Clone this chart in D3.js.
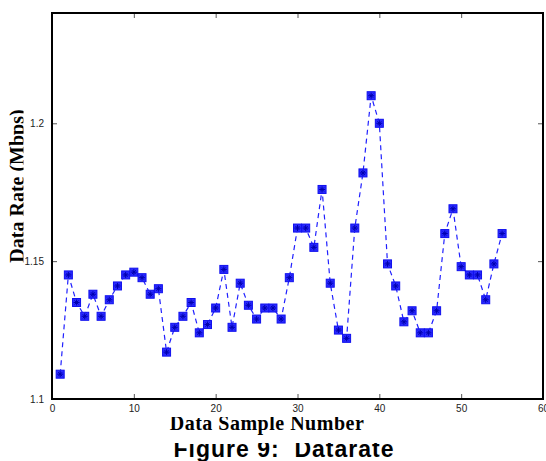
<!DOCTYPE html>
<html>
<head>
<meta charset="utf-8">
<script src="https://cdn.jsdelivr.net/npm/d3@7"></script>
<style>
  body { margin: 0; background: #fff; }
  svg { display: block; }
</style>
</head>
<body>
<div id="chart"></div>
<script>
// data rate per sample
const samples = d3.range(1, 56)
const rates = [1.109, 1.145, 1.135, 1.130, 1.138, 1.130, 1.136, 1.141, 1.145, 1.146,
  1.144, 1.138, 1.140, 1.117, 1.126, 1.130, 1.135, 1.124, 1.127, 1.133,
  1.147, 1.126, 1.142, 1.134, 1.129, 1.133, 1.133, 1.129, 1.144, 1.162,
  1.162, 1.155, 1.176, 1.142, 1.125, 1.122, 1.162, 1.182, 1.210, 1.200,
  1.149, 1.141, 1.128, 1.132, 1.124, 1.124, 1.132, 1.160, 1.169, 1.148,
  1.145, 1.145, 1.136, 1.149, 1.160]
const xTicks = [0, 10, 20, 30, 40, 50, 60]
const yTicks = [1.1, 1.15, 1.2]

const W = 546, H = 461
const margin = {top: 13, right: 3, bottom: 62, left: 52},
  width = W - margin.left - margin.right,
  height = H - margin.top - margin.bottom

const data = samples.map((s, i) => ({x: s, y: rates[i]}))

const svg = d3.select("#chart").append("svg")
  .attr("width", W)
  .attr("height", H)

// the labels in the original scan are cut off at their edges
const defs = svg.append("defs")
defs.append("clipPath").attr("id", "ylabclip")
  .append("rect").attr("x", 0).attr("y", 0).attr("width", 23.5).attr("height", H)
defs.append("clipPath").attr("id", "xlabclip")
  .append("rect").attr("x", 0).attr("y", 417).attr("width", W).attr("height", 40)
defs.append("clipPath").attr("id", "titleclip")
  .append("rect").attr("x", 0).attr("y", 443).attr("width", W).attr("height", 40)

const g = svg.append("g")
  .attr("transform", `translate(${margin.left}, ${margin.top})`)

const x = d3.scaleLinear().domain([0, 60]).range([0, width])
const y = d3.scaleLinear().domain([1.1, 1.24]).range([height, 0])

// axes with inward ticks
const fmtY = d => String(+d.toFixed(2))
function styleAxis(sel) {
  sel.select(".domain").remove()
  sel.selectAll(".tick line").attr("stroke", "#555").attr("stroke-width", 1)
  sel.selectAll(".tick text")
    .attr("font-family", "Liberation Sans, Arial, sans-serif")
    .attr("font-size", 10)
    .attr("fill", "#222")
}

g.append("g")
  .attr("transform", `translate(0, ${height})`)
  .call(d3.axisBottom(x).tickValues(xTicks).tickSizeInner(-5).tickSizeOuter(0).tickPadding(6))
  .call(styleAxis)
g.append("g")
  .call(d3.axisTop(x).tickValues(xTicks).tickSizeInner(-5).tickSizeOuter(0).tickFormat(""))
  .call(styleAxis)
g.append("g")
  .call(d3.axisLeft(y).tickValues(yTicks).tickSizeInner(-5).tickSizeOuter(0).tickPadding(8).tickFormat(fmtY))
  .call(styleAxis)
g.append("g")
  .attr("transform", `translate(${width}, 0)`)
  .call(d3.axisRight(y).tickValues(yTicks).tickSizeInner(-5).tickSizeOuter(0).tickFormat(""))
  .call(styleAxis)

// frame
g.append("rect")
  .attr("x", 0).attr("y", 0)
  .attr("width", width).attr("height", height)
  .attr("fill", "none")
  .attr("stroke", "#000")
  .attr("stroke-width", 2)

// dashed line
const line = d3.line().x(d => x(d.x)).y(d => y(d.y))
g.append("path")
  .datum(data)
  .attr("d", line)
  .attr("fill", "none")
  .attr("stroke", "#2020ff")
  .attr("stroke-width", 1.2)
  .attr("stroke-dasharray", "5,4")

// square markers with a star inside
const m = g.selectAll(".mk").data(data).join("g")
  .attr("class", "mk")
  .attr("transform", d => `translate(${x(d.x)}, ${y(d.y)})`)
m.append("rect")
  .attr("x", -4).attr("y", -4)
  .attr("width", 8).attr("height", 8)
  .attr("fill", "#2a2aff")
  .attr("stroke", "#1010ee")
  .attr("stroke-width", 1)
m.append("path")
  .attr("d", "M-3,0H3M0,-3V3M-2,-2L2,2M-2,2L2,-2")
  .attr("stroke", "#0000b0")
  .attr("stroke-width", 1)

// labels
svg.append("g")
  .attr("clip-path", "url(#ylabclip)")
  .append("text")
  .attr("transform", "translate(23.5, 186) rotate(-90)")
  .attr("text-anchor", "middle")
  .attr("font-family", "Liberation Serif, Times New Roman, serif")
  .attr("font-weight", "bold")
  .attr("font-size", 20)
  .text("Data Rate (Mbps)")

svg.append("g")
  .attr("clip-path", "url(#xlabclip)")
  .append("text")
  .attr("x", 267).attr("y", 430)
  .attr("text-anchor", "middle")
  .attr("font-family", "Liberation Serif, Times New Roman, serif")
  .attr("font-weight", "bold")
  .attr("font-size", 20)
  .attr("letter-spacing", 0.5)
  .text("Data Sample Number")

svg.append("g")
  .attr("clip-path", "url(#titleclip)")
  .append("text")
  .attr("x", 284).attr("y", 457)
  .attr("text-anchor", "middle")
  .attr("font-family", "Liberation Sans, Arial, sans-serif")
  .attr("font-weight", "bold")
  .attr("font-size", 23)
  .attr("letter-spacing", 1)
  .style("white-space", "pre")
  .text("Figure 9:  Datarate")
</script>
</body>
</html>
